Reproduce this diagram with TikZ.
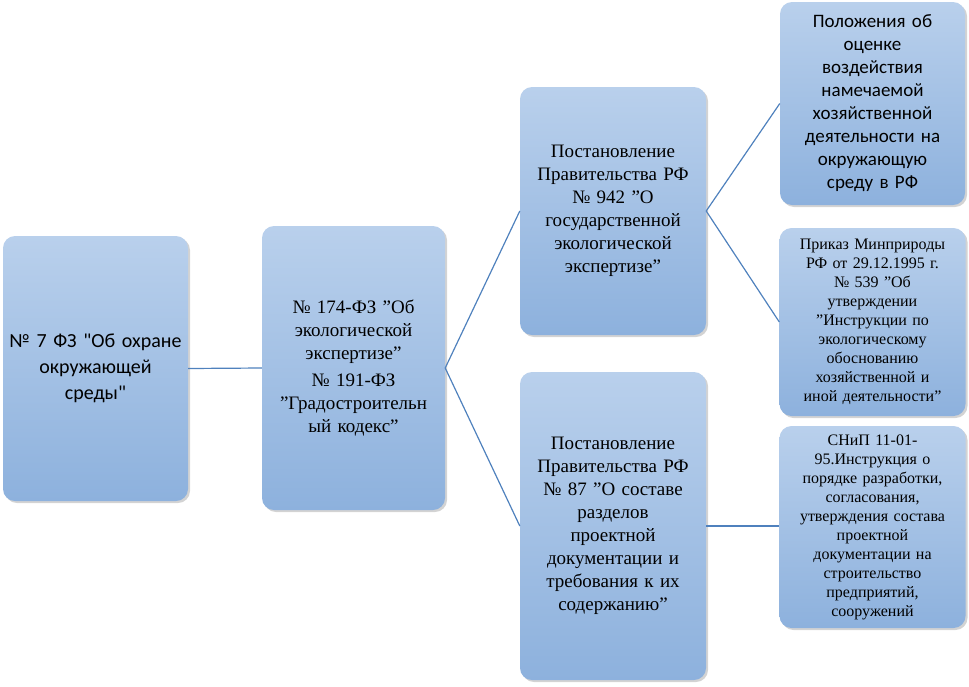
\documentclass[tikz,border=0pt]{standalone}
\usepackage{fontspec}
\setmainfont{Liberation Serif}
\newfontfamily\calfont{Carlito}
\usetikzlibrary{shadows}
\definecolor{ctop}{HTML}{B9D0EC}
\definecolor{cbot}{HTML}{8DB1DD}
\definecolor{cline}{HTML}{4F81BD}
\tikzset{
  box/.style={rounded corners=12pt, top color=ctop, bottom color=cbot, draw=none,
    drop shadow={shadow xshift=2pt, shadow yshift=-2pt, opacity=0.35},
    align=center, inner sep=2pt, font=\fontsize{19}{23}\selectfont},
  conn/.style={draw=cline, line width=1.2pt}
}
\begin{document}
\begin{tikzpicture}[x=1pt,y=-1pt]
\useasboundingbox (0,0) rectangle (969,686);
\node[box, minimum width=185pt, minimum height=265pt, text width=180pt, font=\calfont\fontsize{20}{26}\selectfont] (a) at (95.5,368.5) {№ 7 ФЗ "Об охране\\окружающей\\среды"};
\node[box, minimum width=183pt, minimum height=284pt, text width=178pt] (b) at (353.5,368) {№ 174-ФЗ "Об\\экологической\\экспертизе"\\[4pt]№ 191-ФЗ\\"Градостроительн\\ый кодекс"};
\node[box, minimum width=186pt, minimum height=248pt, text width=180pt] (c) at (613,211) {Постановление\\Правительства РФ\\№ 942 "О\\государственной\\экологической\\экспертизе"};
\node[box, minimum width=186pt, minimum height=308pt, text width=180pt] (d) at (613,526) {Постановление\\Правительства РФ\\№ 87 "О составе\\разделов\\проектной\\документации и\\требования к их\\содержанию"};
\node[box, minimum width=185pt, minimum height=203pt, text width=180pt, font=\calfont\fontsize{19}{23}\selectfont] (e) at (872.5,103.5) {Положения об\\оценке\\воздействия\\намечаемой\\хозяйственной\\деятельности на\\окружающую\\среду в РФ};
\node[box, minimum width=185pt, minimum height=188pt, text width=182pt, font=\fontsize{16}{19}\selectfont] (f) at (872.5,322) {Приказ Минприроды\\РФ от 29.12.1995 г.\\№ 539 "Об\\утверждении\\"Инструкции по\\экологическому\\обоснованию\\хозяйственной и\\иной деятельности"};
\node[box, minimum width=185pt, minimum height=202pt, text width=182pt, font=\fontsize{16}{19}\selectfont] (g) at (872.5,527) {СНиП 11-01-\\95.Инструкция о\\порядке разработки,\\согласования,\\утверждения состава\\проектной\\документации на\\строительство\\предприятий,\\сооружений};
\draw[conn] (a.east) -- (b.west);
\draw[conn] (b.east) -- (c.west);
\draw[conn] (b.east) -- (d.west);
\draw[conn] (c.east) -- (e.west);
\draw[conn] (c.east) -- (f.west);
\draw[conn] (d.east) -- (d.east -| g.west);
\end{tikzpicture}
\end{document}
